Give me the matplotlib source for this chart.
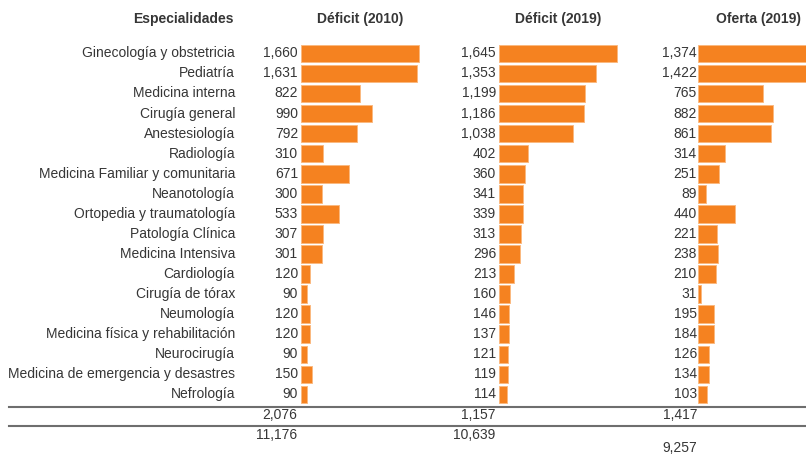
import matplotlib.pyplot as plt
from matplotlib.lines import Line2D

plt.rcParams['font.family'] = ['Liberation Sans', 'DejaVu Sans']

W, H = 806, 454

especialidades = ['Ginecología y obstetricia', 'Pediatría', 'Medicina interna', 'Cirugía general',
                  'Anestesiología', 'Radiología', 'Medicina Familiar y comunitaria', 'Neanotología',
                  'Ortopedia y traumatología', 'Patología Clínica', 'Medicina Intensiva', 'Cardiología',
                  'Cirugía de tórax', 'Neumología', 'Medicina física y rehabilitación', 'Neurocirugía',
                  'Medicina de emergencia y desastres', 'Nefrología']
deficit_2010 = [1660, 1631, 822, 990, 792, 310, 671, 300, 533, 307, 301, 120, 90, 120, 120, 90, 150, 90]
deficit_2019 = [1645, 1353, 1199, 1186, 1038, 402, 360, 341, 339, 313, 296, 213, 160, 146, 137, 121, 119, 114]
oferta_2019 = [1374, 1422, 765, 882, 861, 314, 251, 89, 440, 221, 238, 210, 31, 195, 184, 126, 134, 103]
headers = ['Déficit (2010)', 'Déficit (2019)', 'Oferta (2019)']
otros = [2076, 1157, 1417]
totales = [11176, 10639, 9257]

orange = '#f58220'
txt = '#363636'
fs = 10

fig = plt.figure(figsize=(W / 100, H / 100), dpi=100)


def fx(px):
    return px / W


def fy(py):
    return 1 - py / H


# pixel layout of the three panels: left edge, px per unit, label offset
paneles = [(301, 0.0713, 3), (499, 0.0716, 3), (698, 0.0845, 1)]
series = [deficit_2010, deficit_2019, oferta_2019]
y_top, y_bot = 43.3, 404.5
n = len(especialidades)

for k, ((left, scale, off), vals) in enumerate(zip(paneles, series)):
    xmax = 1800 if k < 2 else (W - left) / scale
    width_px = xmax * scale
    ax = fig.add_axes([fx(left), fy(y_bot), fx(width_px), (y_bot - y_top) / H])
    ax.barh(range(n), vals, height=0.88, color=orange, edgecolor='#fbb980', linewidth=0.7)
    ax.set_xlim(0, xmax)
    ax.set_ylim(n - 0.5, -0.5)
    ax.axis('off')
    for i, v in enumerate(vals):
        ax.annotate(f'{v:,}', xy=(0, i), xytext=(-off * 0.72, 0), textcoords='offset points',
                    ha='right', va='center', fontsize=fs, color=txt)
    if k == 0:
        for i, lab in enumerate(especialidades):
            ax.annotate(lab, xy=(0, i), xytext=(-66 * 0.72, 0), textcoords='offset points',
                        ha='right', va='center', fontsize=fs, color=txt)

# headers
fig.text(fx(234), fy(19), 'Especialidades', ha='right', va='center', fontsize=fs, fontweight='bold', color=txt)
for xc, h in zip([360, 558, 758], headers):
    fig.text(fx(xc), fy(19), h, ha='center', va='center', fontsize=fs, fontweight='bold', color=txt)

# separator lines
for yl in [406.5, 425.7]:
    fig.add_artist(Line2D([fx(9), 1], [fy(yl), fy(yl)], color='#6e6e6e', linewidth=1.5))

# bottom totals
for xr, v in zip([297, 495, 697], otros):
    fig.text(fx(xr), fy(415), f'{v:,}', ha='right', va='center', fontsize=fs, color=txt)
for xr, yv, v in zip([297, 495, 697], [435, 435, 448], totales):
    fig.text(fx(xr), fy(yv), f'{v:,}', ha='right', va='center', fontsize=fs, color=txt)

fig.savefig('out.png', dpi=100)
